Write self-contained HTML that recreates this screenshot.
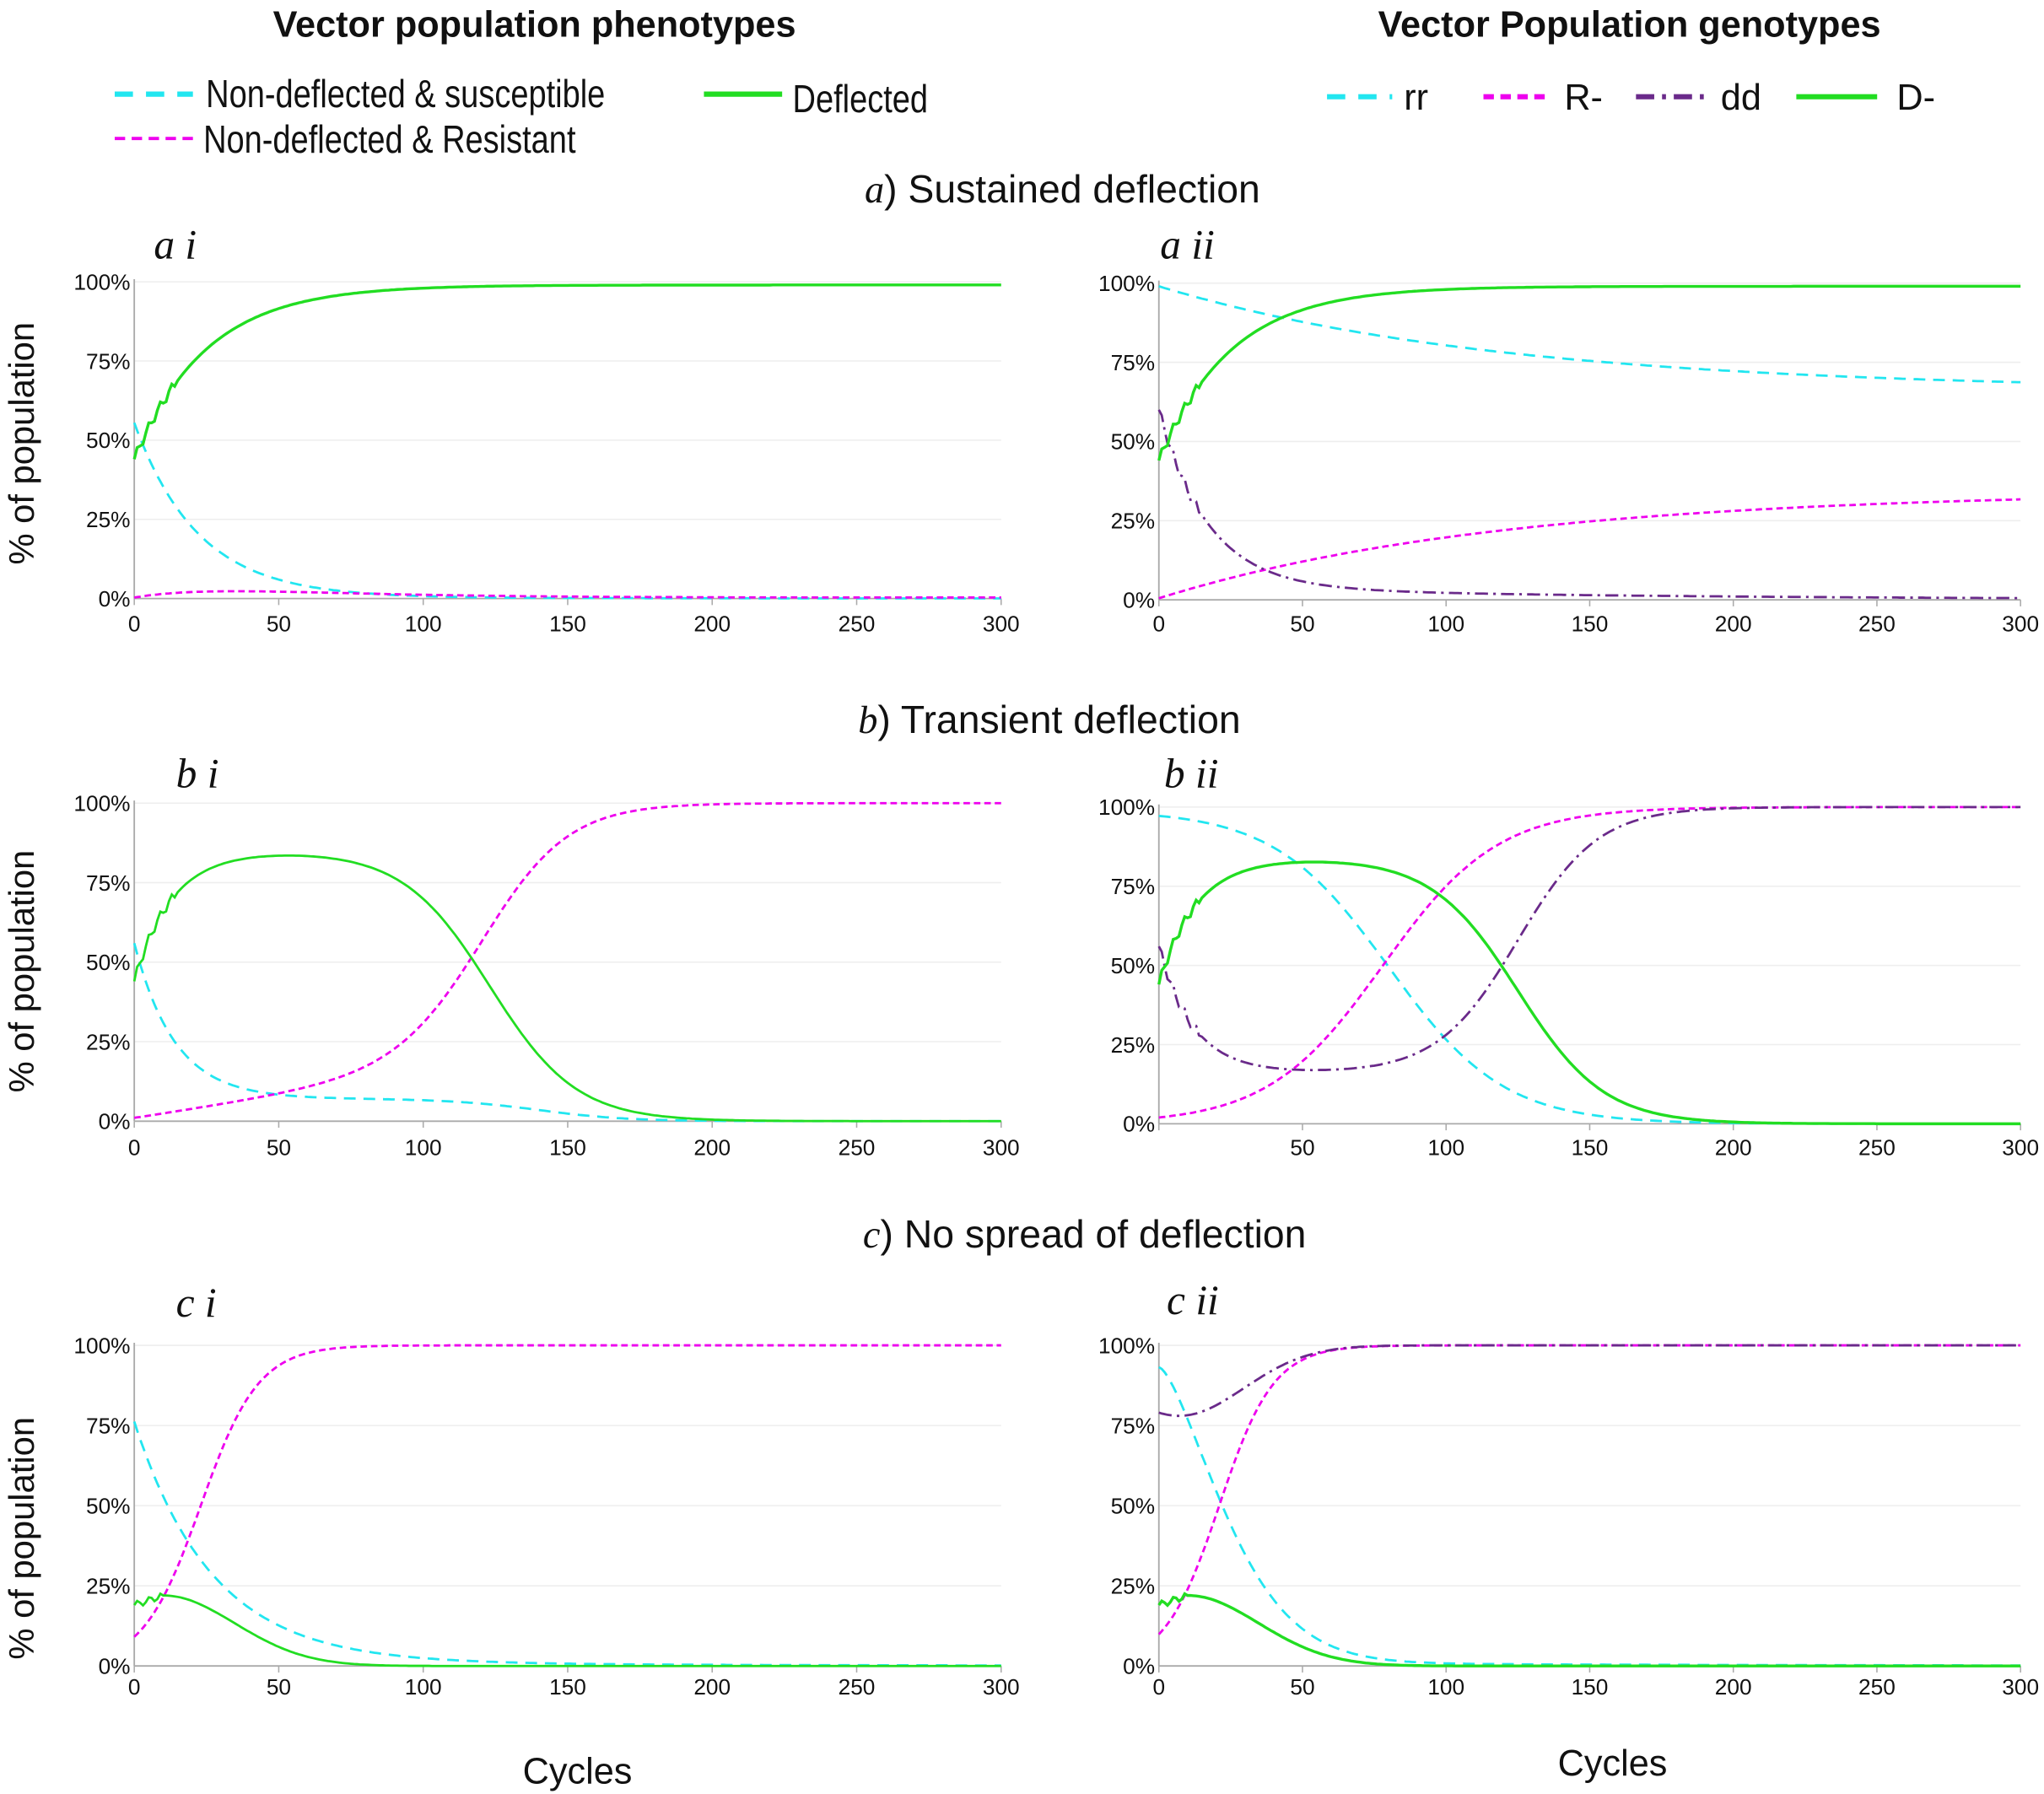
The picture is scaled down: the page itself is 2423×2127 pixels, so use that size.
<!DOCTYPE html>
<html><head><meta charset="utf-8"><style>
html,body{margin:0;padding:0;background:#fff}
svg{display:block}
text{font-family:"Liberation Sans",sans-serif;fill:#111}
.tk{font-size:17px}
.sec{font-size:30px}
.pl{font-family:"Liberation Serif",serif;font-style:italic;font-size:32px}
.it{font-family:"Liberation Serif",serif;font-style:italic}
</style></head><body>
<svg id="s" width="2423" height="2127" viewBox="0 0 1568 1376" xmlns="http://www.w3.org/2000/svg">
<text x="410" y="28" text-anchor="middle" font-weight="bold" font-size="28">Vector population  phenotypes</text>
<text x="1250" y="28" text-anchor="middle" font-weight="bold" font-size="28">Vector Population  genotypes</text>
<line x1="88" y1="72" x2="148" y2="72" stroke="#22e6f0" stroke-width="4" stroke-dasharray="14,10"/>
<text x="158" y="82" font-size="30" transform="translate(158 0) scale(0.82 1) translate(-158 0)">Non-deflected &amp; susceptible</text>
<line x1="88" y1="106" x2="148" y2="106" stroke="#ee00ee" stroke-width="2.5" stroke-dasharray="8,5"/>
<text x="156" y="117" font-size="30" transform="translate(156 0) scale(0.82 1) translate(-156 0)">Non-deflected &amp; Resistant</text>
<line x1="540" y1="72" x2="600" y2="72" stroke="#22dd22" stroke-width="4"/>
<text x="608" y="86" font-size="30" transform="translate(608 0) scale(0.82 1) translate(-608 0)">Deflected</text>
<line x1="1018" y1="74" x2="1068" y2="74" stroke="#22e6f0" stroke-width="4" stroke-dasharray="14,10"/>
<text x="1077" y="84" font-size="28">rr</text>
<line x1="1138" y1="74" x2="1190" y2="74" stroke="#ee00ee" stroke-width="4" stroke-dasharray="8,5"/>
<text x="1200" y="84" font-size="28">R-</text>
<line x1="1255" y1="74" x2="1310" y2="74" stroke="#6a2a8a" stroke-width="4" stroke-dasharray="14,6,3,6"/>
<text x="1320" y="84" font-size="28">dd</text>
<line x1="1378" y1="74" x2="1440" y2="74" stroke="#22dd22" stroke-width="4"/>
<text x="1455" y="84" font-size="28">D-</text>
<text x="815" y="155" text-anchor="middle" class="sec"><tspan class="it">a</tspan>) Sustained deflection</text>
<text x="805" y="562" text-anchor="middle" class="sec"><tspan class="it">b</tspan>) Transient deflection</text>
<text x="832" y="957" text-anchor="middle" class="sec"><tspan class="it">c</tspan>) No spread of deflection</text>
<text class="pl" x="118" y="198">a i</text>
<text class="pl" x="890" y="198">a ii</text>
<text class="pl" x="135" y="604">b i</text>
<text class="pl" x="893" y="604">b ii</text>
<text class="pl" x="135" y="1010">c i</text>
<text class="pl" x="895" y="1008">c ii</text>
<text font-size="27" transform="translate(26 340) rotate(-90)" text-anchor="middle">% of population</text>
<text font-size="27" transform="translate(26 745) rotate(-90)" text-anchor="middle">% of population</text>
<text font-size="27" transform="translate(26 1180) rotate(-90)" text-anchor="middle">% of population</text>
<text x="443" y="1368" font-size="28" text-anchor="middle">Cycles</text>
<text x="1237" y="1362" font-size="28" text-anchor="middle">Cycles</text>
<g id="g"></g>
</svg>
<script>
const NS="http://www.w3.org/2000/svg",G=document.getElementById('g');
function el(t,a,txt){const e=document.createElementNS(NS,t);for(const k in a)e.setAttribute(k,a[k]);if(txt!==undefined)e.textContent=txt;G.appendChild(e);return e;}
const E=Math.exp,Lg=(x)=>1/(1+E(-x));
const ST={c:{stroke:"#22e6f0","stroke-dasharray":"9,6"},m:{stroke:"#ee00ee","stroke-dasharray":"5,3"},p:{stroke:"#6a2a8a","stroke-dasharray":"10,4,2,4"},g:{stroke:"#22dd22"}};
function wob(t){return t<15?1.5*Math.sin(t*1.6):0;}
function panel(x0,x1,y0,y100,ty,curves,xt){
 for(let i=1;i<=4;i++){const y=y0+(y100-y0)*i/4;el('line',{x1:x0,x2:x1,y1:y,y2:y,stroke:"#eee","stroke-width":1});}
 el('line',{x1:x0,x2:x0,y1:y0,y2:y100-2,stroke:"#aaa","stroke-width":1.2});
 el('line',{x1:x0,x2:x1,y1:y0,y2:y0,stroke:"#aaa","stroke-width":1.2});
 for(let i=0;i<=4;i++){const y=y0+(y100-y0)*i/4;el('text',{x:x0-3,y:y+6,class:"tk","text-anchor":"end"},(25*i)+"%");}
 for(let i=0;i<=6;i++){const x=x0+(x1-x0)*i/6;el('line',{x1:x,x2:x,y1:y0,y2:y0+5,stroke:"#aaa"});
  if(i>0||xt)el('text',{x:x,y:ty,class:"tk","text-anchor":"middle"},String(50*i));}
 for(const [k,f,w] of curves){let d="";for(let t=0;t<=300;t+=1){const v=Math.max(0,Math.min(100.5,f(t)));d+=(t?"L":"M")+(x0+(x1-x0)*t/300).toFixed(1)+","+(y0+(y100-y0)*v/100).toFixed(1);}
  el('path',Object.assign({d:d,fill:"none","stroke-width":w||1.8},ST[k]));}
}
const Da=t=>99-55*E(-t/25)+wob(t);
panel(103,768,459,216,484,[
 ['c',t=>55*E(-t/22)+0.5*E(-t/100)],
 ['m',t=>2*(t/35)*E(1-t/35)+0.3],
 ['g',Da,2.2]],true);
panel(889,1550,460,217,484,[
 ['c',t=>66+33*E(-t/120)],
 ['m',t=>0.5+34*(1-E(-t/120))],
 ['p',t=>56*E(-t/17)+4*E(-t/150)+wob(t)],
 ['g',Da,2.2]],true);
panel(103,768,860,616,886,[
 ['c',t=>(1-Lg((t-140)/15))*(7+49*E(-t/14))],
 ['m',t=>{const L=Lg((t-122)/15);return 100*L+(1-L)*(1+0.14*t);}],
 ['g',t=>(85-41*E(-t/13)+wob(t))*(1-Lg((t-123)/15))]],true);
panel(889,1550,862,619,886,[
 ['c',t=>99/(1+E((t-80)/20))],
 ['m',t=>100/(1+E(-(t-78)/20))],
 ['p',t=>{const L=Lg((t-125)/14);return 100*L+(1-L)*(16+40*E(-t/12)+wob(t));}],
 ['g',t=>(84-40*E(-t/13)+wob(t))*(1-Lg((t-125)/15)),2.2]],false);
const Dc=t=>t<10?19+0.3*t+Math.sin(t*1.5):22*E(-Math.pow((t-10)/35,2));
panel(103,768,1278,1032,1300,[
 ['c',t=>75*E(-t/27)+1.2*E(-t/150)],
 ['m',t=>100/(1+E(-(t-23)/10))],
 ['g',Dc]],true);
panel(889,1550,1278,1032,1300,[
 ['c',t=>92*E(-Math.pow(t/30,1.5))+1.2*E(-t/150)],
 ['m',t=>100/(1+E(-(t-21)/9.5))],
 ['p',t=>100-22*E(-Math.pow((t-7)/32,2))],
 ['g',Dc,2.2]],true);
</script>
</body></html>
